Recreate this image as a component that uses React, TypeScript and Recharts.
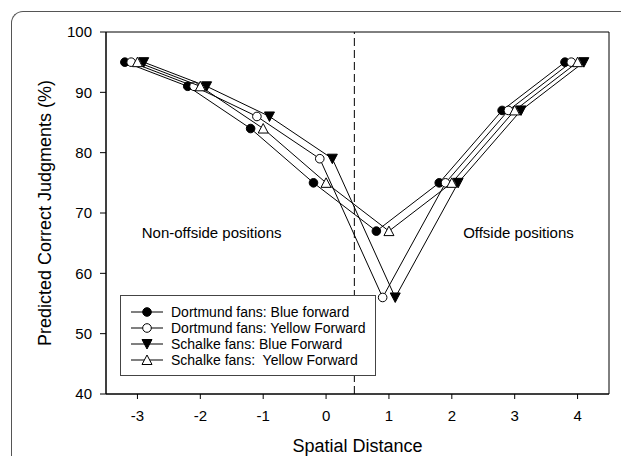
import {
  ScatterChart,
  Scatter,
  XAxis,
  YAxis,
  ReferenceLine,
  ReferenceArea,
  ReferenceDot,
  Legend,
} from 'recharts';

// spatial distance categories and the small horizontal offset of each series
const distances = [-3, -2, -1, 0, 1, 2, 3, 4];
const xTicks = [-3, -2, -1, 0, 1, 2, 3, 4];
const yTicks = [40, 50, 60, 70, 80, 90, 100];

const dortmundBlue = [95, 91, 84, 75, 67, 75, 87, 95];
const dortmundYellow = [95, 91, 86, 79, 56, 75, 87, 95];
const schalkeBlue = [95, 91, 86, 79, 56, 75, 87, 95];
const schalkeYellow = [95, 91, 84, 75, 67, 75, 87, 95];

const offsets = { dortmundBlue: -0.2, dortmundYellow: -0.1, schalkeBlue: 0.1, schalkeYellow: 0 };

const FONT = '"Liberation Sans", Arial, sans-serif';

const toPoints = (values: number[], offset: number) =>
  values.map((y, i) => ({ x: distances[i] + offset, y }));

type MarkerKind = 'filledCircle' | 'openCircle' | 'filledDown' | 'openUp';

function Marker({ kind, cx, cy }: { kind: MarkerKind; cx: number; cy: number }) {
  if (kind === 'filledCircle') return <circle cx={cx} cy={cy} r={4.3} fill="#000" stroke="#000" />;
  if (kind === 'openCircle') return <circle cx={cx} cy={cy} r={4.3} fill="#fff" stroke="#000" strokeWidth={1} />;
  if (kind === 'filledDown') {
    const s = 5;
    return (
      <polygon
        points={`${cx - s},${cy - s + 0.5} ${cx + s},${cy - s + 0.5} ${cx},${cy + s}`}
        fill="#000"
        stroke="#000"
      />
    );
  }
  const s = 5;
  return (
    <polygon
      points={`${cx - s},${cy + s - 0.5} ${cx + s},${cy + s - 0.5} ${cx},${cy - s}`}
      fill="#fff"
      stroke="#000"
      strokeWidth={1}
    />
  );
}

const makeShape = (kind: MarkerKind) => (props: any) =>
  <Marker kind={kind} cx={props.cx} cy={props.cy} />;

const series = [
  { name: 'Dortmund fans: Blue forward', kind: 'filledCircle' as MarkerKind, data: toPoints(dortmundBlue, offsets.dortmundBlue) },
  { name: 'Dortmund fans: Yellow Forward', kind: 'openCircle' as MarkerKind, data: toPoints(dortmundYellow, offsets.dortmundYellow) },
  { name: 'Schalke fans: Blue Forward', kind: 'filledDown' as MarkerKind, data: toPoints(schalkeBlue, offsets.schalkeBlue) },
  { name: 'Schalke fans:  Yellow Forward', kind: 'openUp' as MarkerKind, data: toPoints(schalkeYellow, offsets.schalkeYellow) },
];

function LegendBox() {
  return (
    <div
      style={{
        border: '1px solid #444',
        background: '#fff',
        width: 256,
        height: 81,
        boxSizing: 'border-box',
        padding: '8px 0 0 9px',
        fontFamily: FONT,
        fontSize: 14,
        color: '#000',
      }}
    >
      {series.map((s) => (
        <div key={s.name} style={{ display: 'flex', alignItems: 'center', height: 16 }}>
          <svg width={34} height={12} style={{ marginRight: 7 }}>
            <line x1={1} y1={6} x2={33} y2={6} stroke="#000" strokeWidth={1} />
            <Marker kind={s.kind} cx={17} cy={6} />
          </svg>
          <span style={{ whiteSpace: 'pre' }}>{s.name}</span>
        </div>
      ))}
    </div>
  );
}

export default function App() {
  return (
    <div
      style={{
        position: 'absolute',
        left: 0,
        top: 0,
        width: 621,
        height: 456,
        overflow: 'hidden',
        background: '#fff',
      }}
    >
      <div
        style={{
          position: 'absolute',
          left: 11,
          top: 11,
          width: 700,
          height: 600,
          borderTop: '1.5px solid #555',
          borderLeft: '1.5px solid #555',
          borderTopLeftRadius: 12,
        }}
      />
      <ScatterChart
        width={621}
        height={456}
        margin={{ top: 32, right: 12, left: 0, bottom: 0 }}
        style={{ position: 'absolute', left: 0, top: 0 }}
      >
        <XAxis
          type="number"
          dataKey="x"
          domain={[-3.5, 4.5]}
          ticks={xTicks}
          height={62}
          tickSize={5}
          tickMargin={11}
          stroke="#000"
          tick={{ fill: '#000', fontSize: 15, fontFamily: FONT }}
          allowDataOverflow
          label={{
            value: 'Spatial Distance',
            position: 'insideBottom',
            offset: 4,
            style: { fill: '#000', fontSize: 18, fontFamily: FONT },
          }}
        />
        <YAxis
          type="number"
          dataKey="y"
          domain={[40, 100]}
          ticks={yTicks}
          width={106}
          tickSize={6}
          tickMargin={8}
          stroke="#000"
          tick={{ fill: '#000', fontSize: 15, fontFamily: FONT }}
          allowDataOverflow
          label={{
            value: 'Predicted Correct Judgments (%)',
            angle: -90,
            position: 'insideLeft',
            offset: 45,
            style: { textAnchor: 'middle', fill: '#000', fontSize: 18, fontFamily: FONT },
          }}
        />
        <ReferenceArea x1={-3.5} x2={4.5} y1={40} y2={100} fill="none" stroke="#000" strokeWidth={1} />
        <ReferenceLine x={0.45} stroke="#000" strokeDasharray="8 4" strokeWidth={1} />
        <ReferenceDot
          x={-1.82}
          y={66.8}
          r={0}
          fill="none"
          stroke="none"
          label={{ value: 'Non-offside positions', position: 'center', fill: '#000', fontSize: 15, fontFamily: FONT }}
        />
        <ReferenceDot
          x={3.06}
          y={66.8}
          r={0}
          fill="none"
          stroke="none"
          label={{ value: 'Offside positions', position: 'center', fill: '#000', fontSize: 15, fontFamily: FONT }}
        />
        {series.map((s) => (
          <Scatter
            key={s.name}
            name={s.name}
            data={s.data}
            line={{ stroke: '#000', strokeWidth: 1 }}
            lineType="joint"
            shape={makeShape(s.kind)}
            isAnimationActive={false}
          />
        ))}
        <Legend
          layout="vertical"
          align="center"
          verticalAlign="middle"
          content={() => <LegendBox />}
          wrapperStyle={{ position: 'absolute', left: 120, top: 295, width: 256, height: 81 }}
        />
      </ScatterChart>
    </div>
  );
}
